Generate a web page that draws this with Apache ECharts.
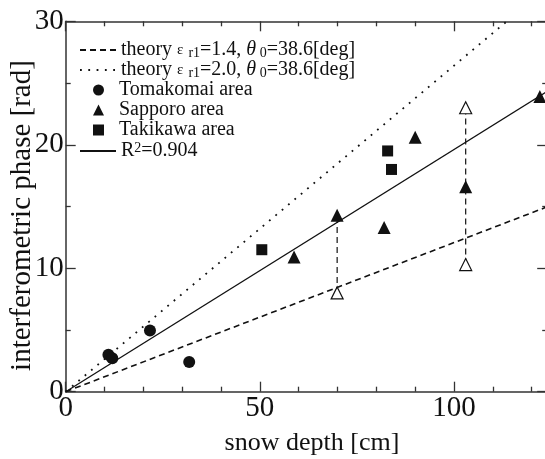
<!DOCTYPE html>
<html>
<head>
<meta charset="utf-8">
<script src="https://cdn.jsdelivr.net/npm/echarts@6/dist/echarts.min.js"></script>
<style>html,body{margin:0;padding:0;background:#fff;}#c{width:545px;height:459px;}</style>
</head>
<body>
<div id="c"></div>
<script>
// ---- data ----
const tomakomai = [[11, 3.0], [12, 2.7], [21.7, 4.95], [31.8, 2.4]];
const sapporo = [[58.8, 10.9], [69.9, 14.3], [82.0, 13.3], [90.0, 20.6], [103.0, 16.6], [122.1, 23.9]];
const takikawa = [[50.5, 11.5], [82.9, 19.5], [83.9, 18.0]];
const openTri = [[69.9, 8.0], [103.0, 10.3], [103.0, 23.0]];
const link70 = [[69.9, 8.0], [69.9, 14.3]];
const link103 = [[103.0, 10.3], [103.0, 23.0]];
const theory14 = [[0, 0], [130, 15.7]];
const theory20 = [[0, 0], [113.6, 30]];
const fitLine = [[0, 0], [130, 25.5]];
const xTicks = [0, 50, 100];
const yTicks = [0, 10, 20, 30];

const FONT = "'Liberation Serif','Times New Roman',serif";
const INK = '#111';
const AX = '#333';

const legendLabels = {
  'theory14': 'theory {eps|ε} {sub|r1}=1.4, {it|θ}{sub| 0}=38.6[deg]',
  'theory20': 'theory {eps|ε} {sub|r1}=2.0, {it|θ}{sub| 0}=38.6[deg]',
  'Tomakomai area': 'Tomakomai area',
  'Sapporo area': 'Sapporo area',
  'Takikawa area': 'Takikawa area',
  'fit': 'R{sup|2}=0.904'
};

function axisCommon(pos, showLabel, major, minorSplit, max) {
  return {
    type: 'value', min: 0, max: max, interval: major, position: pos,
    axisLine: { show: true, onZero: false, lineStyle: { color: AX, width: 1.5 } },
    axisTick: { show: true, inside: true, length: 10, lineStyle: { color: AX, width: 1.3 } },
    minorTick: { show: true, splitNumber: minorSplit, length: 5, lineStyle: { color: AX, width: 1.3 } },
    splitLine: { show: false }, minorSplitLine: { show: false },
    axisLabel: {
      show: showLabel, fontFamily: FONT, fontSize: 29, color: INK, margin: 2,
      formatter: v => (pos === 'bottom' ? xTicks : yTicks).includes(v) ? String(v) : ''
    }
  };
}

const chart = echarts.init(document.getElementById('c'), null, { renderer: 'canvas' });
const xb = axisCommon('bottom', true, 50, 5, 150);
xb.name = 'snow depth [cm]'; xb.nameLocation = 'middle'; xb.nameGap = 38; xb.nameMoveOverlap = false;
xb.nameTextStyle = { fontFamily: FONT, fontSize: 26, color: INK, padding: [0, 90, 0, 0] };
const xt = axisCommon('top', false, 50, 5, 150);
const yl = axisCommon('left', true, 10, 2, 30);
yl.name = 'interferometric phase [rad]'; yl.nameLocation = 'middle'; yl.nameGap = 29; yl.nameMoveOverlap = false;
yl.nameTextStyle = { fontFamily: FONT, fontSize: 29, color: INK, padding: [0, 18, 0, 0] };
const yr = axisCommon('right', false, 10, 2, 30);
yr.offset = -101;

const lineBase = { type: 'line', symbol: 'none', silent: true, animation: false, z: 2 };
const hideSym = { color: 'rgba(0,0,0,0)', borderWidth: 0, opacity: 0 };

const legendText = {
  fontFamily: FONT, fontSize: 20, color: INK, lineHeight: 20,
  rich: {
    eps: { fontFamily: FONT, fontSize: 15, color: INK },
    sub: { fontFamily: FONT, fontSize: 14, color: INK, verticalAlign: 'bottom', lineHeight: 14 },
    it: { fontFamily: FONT, fontSize: 20, fontStyle: 'italic', color: INK },
    sup: { fontFamily: FONT, fontSize: 14, color: INK, verticalAlign: 'top', lineHeight: 14 }
  }
};
const lineLegend = (names, top) => ({
  show: true, orient: 'vertical', left: 79, top: top, padding: 0,
  itemWidth: 36, itemHeight: 10, itemGap: 0, selectedMode: false,
  data: names.map(n => ({ name: n, itemStyle: hideSym })),
  formatter: n => legendLabels[n],
  textStyle: legendText
});

chart.setOption({
  animation: false,
  backgroundColor: '#fff',
  grid: { left: 65.7, top: 21.3, bottom: 67.3, right: -103.2, containLabel: false, outerBoundsMode: 'none' },
  xAxis: [xb, xt],
  yAxis: [yl, yr],
  legend: [
    lineLegend(['theory14', 'theory20'], 40),
    {
      show: true, orient: 'vertical', left: 93, top: 80, padding: 0,
      itemWidth: 11, itemHeight: 11, itemGap: 0, selectedMode: false,
      data: ['Tomakomai area', 'Sapporo area', 'Takikawa area'],
      formatter: n => legendLabels[n],
      textStyle: Object.assign({}, legendText, { padding: [0, 0, 0, 10] })
    },
    lineLegend(['fit'], 141)
  ],
  series: [
    Object.assign({}, lineBase, { name: 'theory14', data: theory14, lineStyle: { color: INK, width: 1.6, type: [6, 4] }, itemStyle: { color: INK } }),
    Object.assign({}, lineBase, { name: 'theory20', data: theory20, lineStyle: { color: INK, width: 1.8, type: [1.8, 6.5] }, itemStyle: { color: INK } }),
    Object.assign({}, lineBase, { name: 'fit', data: fitLine, lineStyle: { color: INK, width: 1.3, type: 'solid' }, itemStyle: { color: INK } }),
    Object.assign({}, lineBase, { name: 'link70', data: link70, lineStyle: { color: INK, width: 1.2, type: [6, 4] } }),
    Object.assign({}, lineBase, { name: 'link103', data: link103, lineStyle: { color: INK, width: 1.2, type: [6, 4] } }),
    { type: 'scatter', name: 'Tomakomai area', data: tomakomai, symbol: 'circle', symbolSize: 12, itemStyle: { color: INK, opacity: 1 }, z: 3 },
    { type: 'scatter', name: 'Sapporo area', data: sapporo, symbol: 'triangle', symbolSize: 13, itemStyle: { color: INK, opacity: 1 }, z: 3 },
    { type: 'scatter', name: 'Takikawa area', data: takikawa, symbol: 'rect', symbolSize: 11, itemStyle: { color: INK, opacity: 1 }, z: 3 },
    { type: 'scatter', name: 'open', data: openTri, symbol: 'triangle', symbolSize: 12, itemStyle: { color: '#fff', borderColor: INK, borderWidth: 1.2, opacity: 1 }, z: 3 }
  ]
});
</script>
</body>
</html>
